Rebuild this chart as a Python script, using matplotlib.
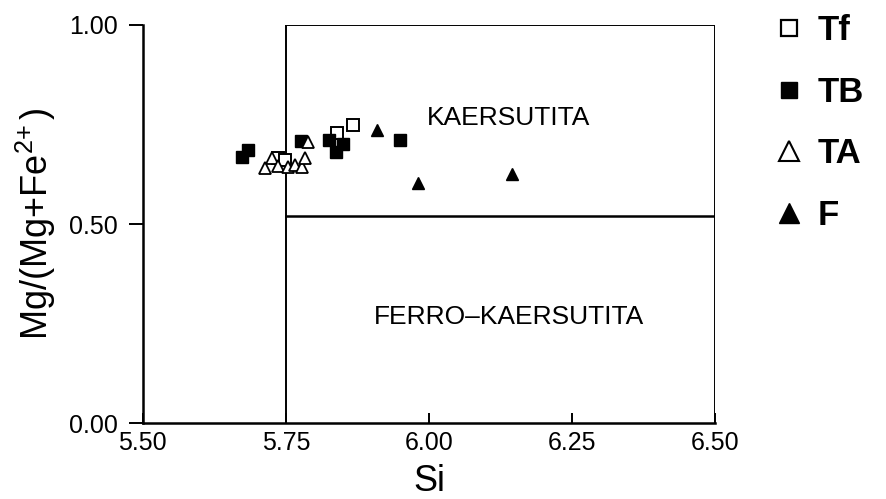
import matplotlib.pyplot as plt
from matplotlib.lines import Line2D

plt.rcParams['font.family'] = ['Liberation Sans', 'DejaVu Sans']
plt.rcParams['mathtext.fontset'] = 'custom'
plt.rcParams['mathtext.rm'] = 'Liberation Sans'
plt.rcParams['mathtext.it'] = 'Liberation Sans'

# Si vs Mg/(Mg+Fe2+) for each group
tf_si = [5.737, 5.748, 5.839, 5.868]
tf_mg = [0.665, 0.661, 0.729, 0.749]

tb_si = [5.673, 5.683, 5.777, 5.825, 5.850, 5.837, 5.949]
tb_mg = [0.669, 0.686, 0.709, 0.711, 0.701, 0.681, 0.711]

ta_si = [5.713, 5.725, 5.736, 5.754, 5.766, 5.779, 5.783, 5.788]
ta_mg = [0.641, 0.665, 0.646, 0.644, 0.648, 0.644, 0.666, 0.706]

f_si = [5.909, 5.981, 6.145]
f_mg = [0.736, 0.602, 0.626]

# field boundaries
si_split, si_max = 5.75, 6.50
mg_split = 0.52

fig = plt.figure(figsize=(8.87, 4.99), dpi=100)
ax = fig.add_axes([0.161, 0.152, 0.645, 0.798])

ax.plot([si_split, si_split], [0, 1.0], color='black', lw=1.4)
ax.plot([si_split, si_max], [1.0, 1.0], color='black', lw=1.4)
ax.plot([si_max, si_max], [0, 1.0], color='black', lw=1.4)
ax.plot([si_split, si_max], [mg_split, mg_split], color='black', lw=1.8)

ax.plot(tf_si, tf_mg, 's', mfc='white', mec='black', mew=1.4, ms=8, ls='none', clip_on=False)
ax.plot(tb_si, tb_mg, 's', color='black', ms=8, ls='none', clip_on=False)
ax.plot(ta_si, ta_mg, '^', mfc='white', mec='black', mew=1.3, ms=9, ls='none', clip_on=False)
ax.plot(f_si, f_mg, '^', color='black', ms=9, ls='none', clip_on=False)

ax.text(6.14, 0.766, 'KAERSUTITA', ha='center', va='center', fontsize=19)
ax.text(6.14, 0.266, 'FERRO\u2013KAERSUTITA', ha='center', va='center', fontsize=19)

ax.set_xlim(5.50, 6.50)
ax.set_ylim(0, 1.0)
ax.set_xticks([5.50, 5.75, 6.00, 6.25, 6.50])
ax.set_xticklabels(['5.50', '5.75', '6.00', '6.25', '6.50'], fontsize=18)
ax.set_yticks([0, 0.5, 1.0])
ax.set_yticklabels(['0.00', '0.50', '1.00'], fontsize=18)
ax.tick_params(axis='x', direction='in', length=7, width=1.4, pad=6)
ax.tick_params(axis='y', direction='out', length=10, width=1.4, pad=8)

for side in ['top', 'right']:
    ax.spines[side].set_visible(False)
for side in ['left', 'bottom']:
    ax.spines[side].set_linewidth(1.8)

ax.set_xlabel('Si', fontsize=26, labelpad=6)
ax.set_ylabel('Mg/(Mg+Fe$^{2\\!+}$)', fontsize=26, labelpad=8)

handles = [
    Line2D([], [], marker='s', mfc='white', mec='black', mew=1.6, ms=12, ls='none'),
    Line2D([], [], marker='s', color='black', ms=12, ls='none'),
    Line2D([], [], marker='^', mfc='white', mec='black', mew=1.5, ms=15, ls='none'),
    Line2D([], [], marker='^', color='black', ms=15, ls='none'),
]
fig.legend(handles, ['Tf', 'TB', 'TA', 'F'], loc='upper left',
           bbox_to_anchor=(0.843, 1.02), frameon=False,
           prop={'size': 25, 'weight': 'bold'}, labelspacing=0.82,
           handletextpad=0.3, handlelength=1.0, borderaxespad=0.3)

fig.savefig('out.png', dpi=100)
